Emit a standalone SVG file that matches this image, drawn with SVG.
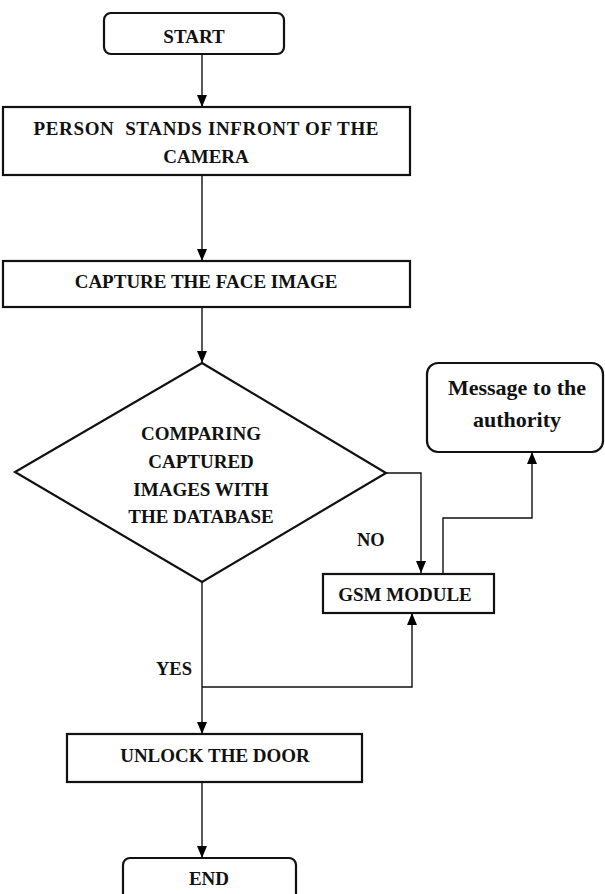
<svg xmlns="http://www.w3.org/2000/svg" width="605" height="894" viewBox="0 0 605 894">
  <defs>
    <marker id="arrow" markerUnits="userSpaceOnUse" markerWidth="12" markerHeight="10" viewBox="0 0 12 10" refX="12" refY="5" orient="auto">
      <path d="M0,0 L12,5 L0,10 Z" fill="#000"/>
    </marker>
    <style>
      .box { fill: #fff; stroke: #111; stroke-width: 2.2; }
      .conn { fill: none; stroke: #111; stroke-width: 1.4; }
      .t { font-family: 'Liberation Serif', serif; font-weight: bold; font-size: 19px; fill: #111; text-anchor: middle; white-space: pre; }
      .lbl { font-family: 'Liberation Serif', serif; font-weight: bold; font-size: 18.5px; fill: #111; }
      .msg { font-size: 22px; }
    </style>
  </defs>
  <rect width="605" height="894" fill="#fff"/>

  <g id="connectors">
    <line class="conn" x1="202" y1="54" x2="202" y2="107" marker-end="url(#arrow)"/>
    <line class="conn" x1="202" y1="175" x2="202" y2="261" marker-end="url(#arrow)"/>
    <line class="conn" x1="202" y1="307" x2="202" y2="363" marker-end="url(#arrow)"/>
    <path class="conn" d="M386,473 H421 V573" marker-end="url(#arrow)"/>
    <path class="conn" d="M443,584 V518 H532 V452" marker-end="url(#arrow)"/>
    <line class="conn" x1="202" y1="582" x2="202" y2="734" marker-end="url(#arrow)"/>
    <path class="conn" d="M202,687 H412 V613" marker-end="url(#arrow)"/>
    <line class="conn" x1="202" y1="782" x2="202" y2="858" marker-end="url(#arrow)"/>
  </g>

  <g id="start">
    <rect class="box" x="104" y="13" width="180" height="41" rx="7"/>
    <text class="t" x="194" y="43">START</text>
  </g>

  <g id="person">
    <rect class="box" x="3" y="107" width="407" height="68"/>
    <text class="t" x="206" y="135" textLength="345" lengthAdjust="spacing">PERSON  STANDS INFRONT OF THE</text>
    <text class="t" x="206" y="163">CAMERA</text>
  </g>

  <g id="capture">
    <rect class="box" x="3" y="261" width="407" height="46"/>
    <text class="t" x="206" y="288">CAPTURE THE FACE IMAGE</text>
  </g>

  <g id="compare">
    <polygon class="box" points="202,363 386,473 202,582 15,472"/>
    <text class="t" x="201" y="440">COMPARING</text>
    <text class="t" x="201" y="468">CAPTURED</text>
    <text class="t" x="201" y="496">IMAGES WITH</text>
    <text class="t" x="201" y="523">THE DATABASE</text>
  </g>

  <g id="gsm">
    <rect class="box" x="323" y="574" width="171" height="39"/>
    <text class="t" x="405" y="601">GSM MODULE</text>
  </g>

  <g id="message">
    <rect class="box" x="427" y="363" width="176" height="89" rx="11"/>
    <text class="t msg" x="517" y="395">Message to the</text>
    <text class="t msg" x="517" y="427">authority</text>
  </g>

  <g id="unlock">
    <rect class="box" x="67" y="734" width="295" height="48"/>
    <text class="t" x="215" y="762">UNLOCK THE DOOR</text>
  </g>

  <g id="end">
    <rect class="box" x="123" y="858" width="173" height="50" rx="7"/>
    <text class="t" x="209" y="885">END</text>
  </g>

  <g id="labels">
    <text class="lbl" x="357" y="546">NO</text>
    <text class="lbl" x="156" y="675">YES</text>
  </g>
</svg>
